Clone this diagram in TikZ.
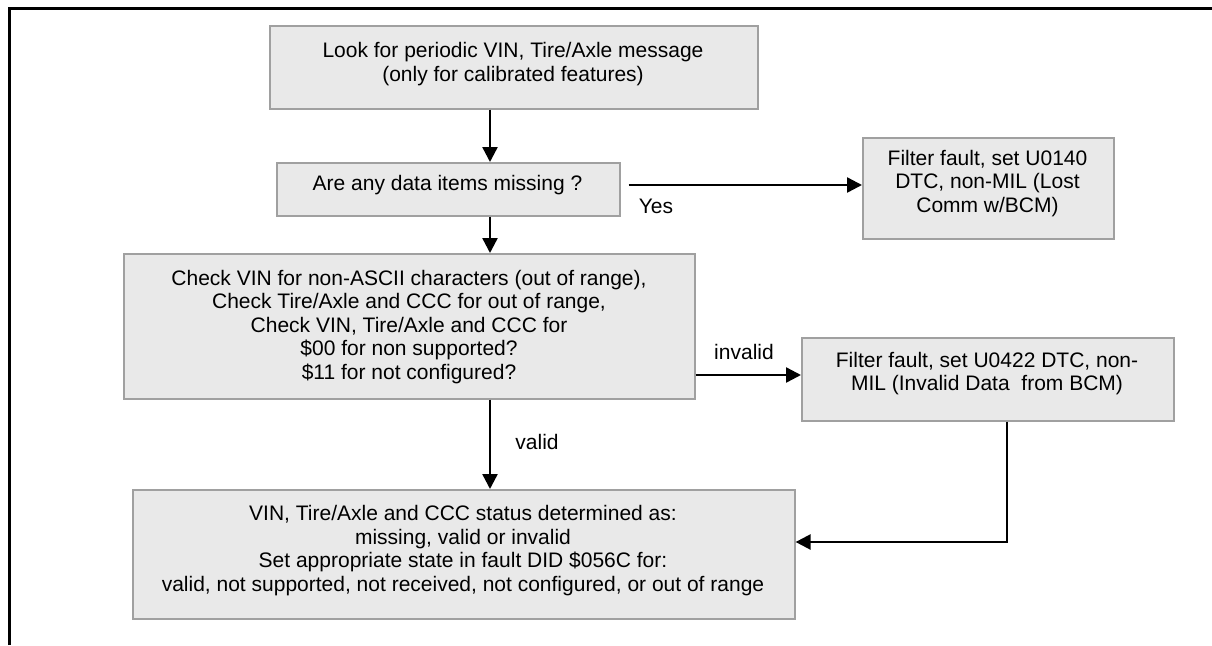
\documentclass[tikz,border=0pt]{standalone}
\usepackage{fontspec}
\setmainfont{Liberation Sans}
\usetikzlibrary{arrows.meta}
\definecolor{boxfill}{HTML}{E9E9E9}
\definecolor{boxdraw}{HTML}{A0A0A0}
\begin{document}
\begin{tikzpicture}[x=1pt,y=-1pt,
  box/.style={draw=boxdraw, fill=boxfill, line width=1.6pt, rectangle, inner sep=0pt, anchor=north west},
  txt/.style={align=center, inner sep=0pt, font=\fontsize{21}{23.5}\selectfont},
  lbl/.style={inner sep=0pt, font=\fontsize{21}{24}\selectfont},
  arr/.style={line width=2.4pt, -{Triangle[length=15pt,width=15pt]}}]
\useasboundingbox (0,0) rectangle (1212,645);
% partial frame
\draw[line width=2.2pt] (9.5,645) -- (9.5,8.5) -- (1212,8.5);
% boxes
\node[box, minimum width=488pt, minimum height=83pt] (b1) at (269,25) {};
\node[box, minimum width=343pt, minimum height=53pt] (b2) at (276,162) {};
\node[box, minimum width=251pt, minimum height=101pt] (r1) at (862,137) {};
\node[box, minimum width=571pt, minimum height=145pt] (b3) at (123,253) {};
\node[box, minimum width=372pt, minimum height=83pt] (r2) at (801,337) {};
\node[box, minimum width=662pt, minimum height=129pt] (b4) at (132,489) {};
% texts
\node[txt] (t1) at (513,64) {Look for periodic VIN, Tire/Axle message\\(only for calibrated features)};
\node[txt] (t2) at (447.5,185) {Are any data items missing ?};
\node[txt] (tr1) at (987.5,183.5) {Filter fault, set U0140\\DTC, non-MIL (Lost\\Comm w/BCM)};
\node[txt] (t3) at (409,327) {Check VIN for non-ASCII characters (out of range),\\Check Tire/Axle and CCC for out of range,\\Check VIN, Tire/Axle and CCC for\\\$00 for non supported?\\\$11 for not configured?};
\node[txt] (tr2) at (987,373.5) {Filter fault, set U0422 DTC, non-\\MIL (Invalid Data~ from BCM)};
\node[txt] (t4) at (463,550.5) {VIN, Tire/Axle and CCC status determined as:\\missing, valid or invalid\\Set appropriate state in fault DID \$056C for:\\valid, not supported, not received, not configured, or out of range};
% helper coordinates
\coordinate (xA) at (490,0);
\coordinate (yY) at (0,185);
\coordinate (yI) at (0,375);
\coordinate (xR) at (1007,0);
\coordinate (yB) at (0,542);
% connectors
\draw[arr] (b1.south -| xA) -- (b2.north -| xA);
\draw[arr] (b2.south -| xA) -- (b3.north -| xA);
\draw[arr, shorten <=8pt] (b2.east |- yY) -- (r1.west |- yY);
\draw[arr] (b3.east |- yI) -- (r2.west |- yI);
\draw[arr] (b3.south -| xA) -- (b4.north -| xA);
\draw[arr] (r2.south -| xR) |- (b4.east |- yB);
% labels
\node[lbl] (lyes) at (656,206) {Yes};
\node[lbl] (linv) at (744,352) {invalid};
\node[lbl] (lval) at (537,442) {valid};
\end{tikzpicture}
\end{document}
